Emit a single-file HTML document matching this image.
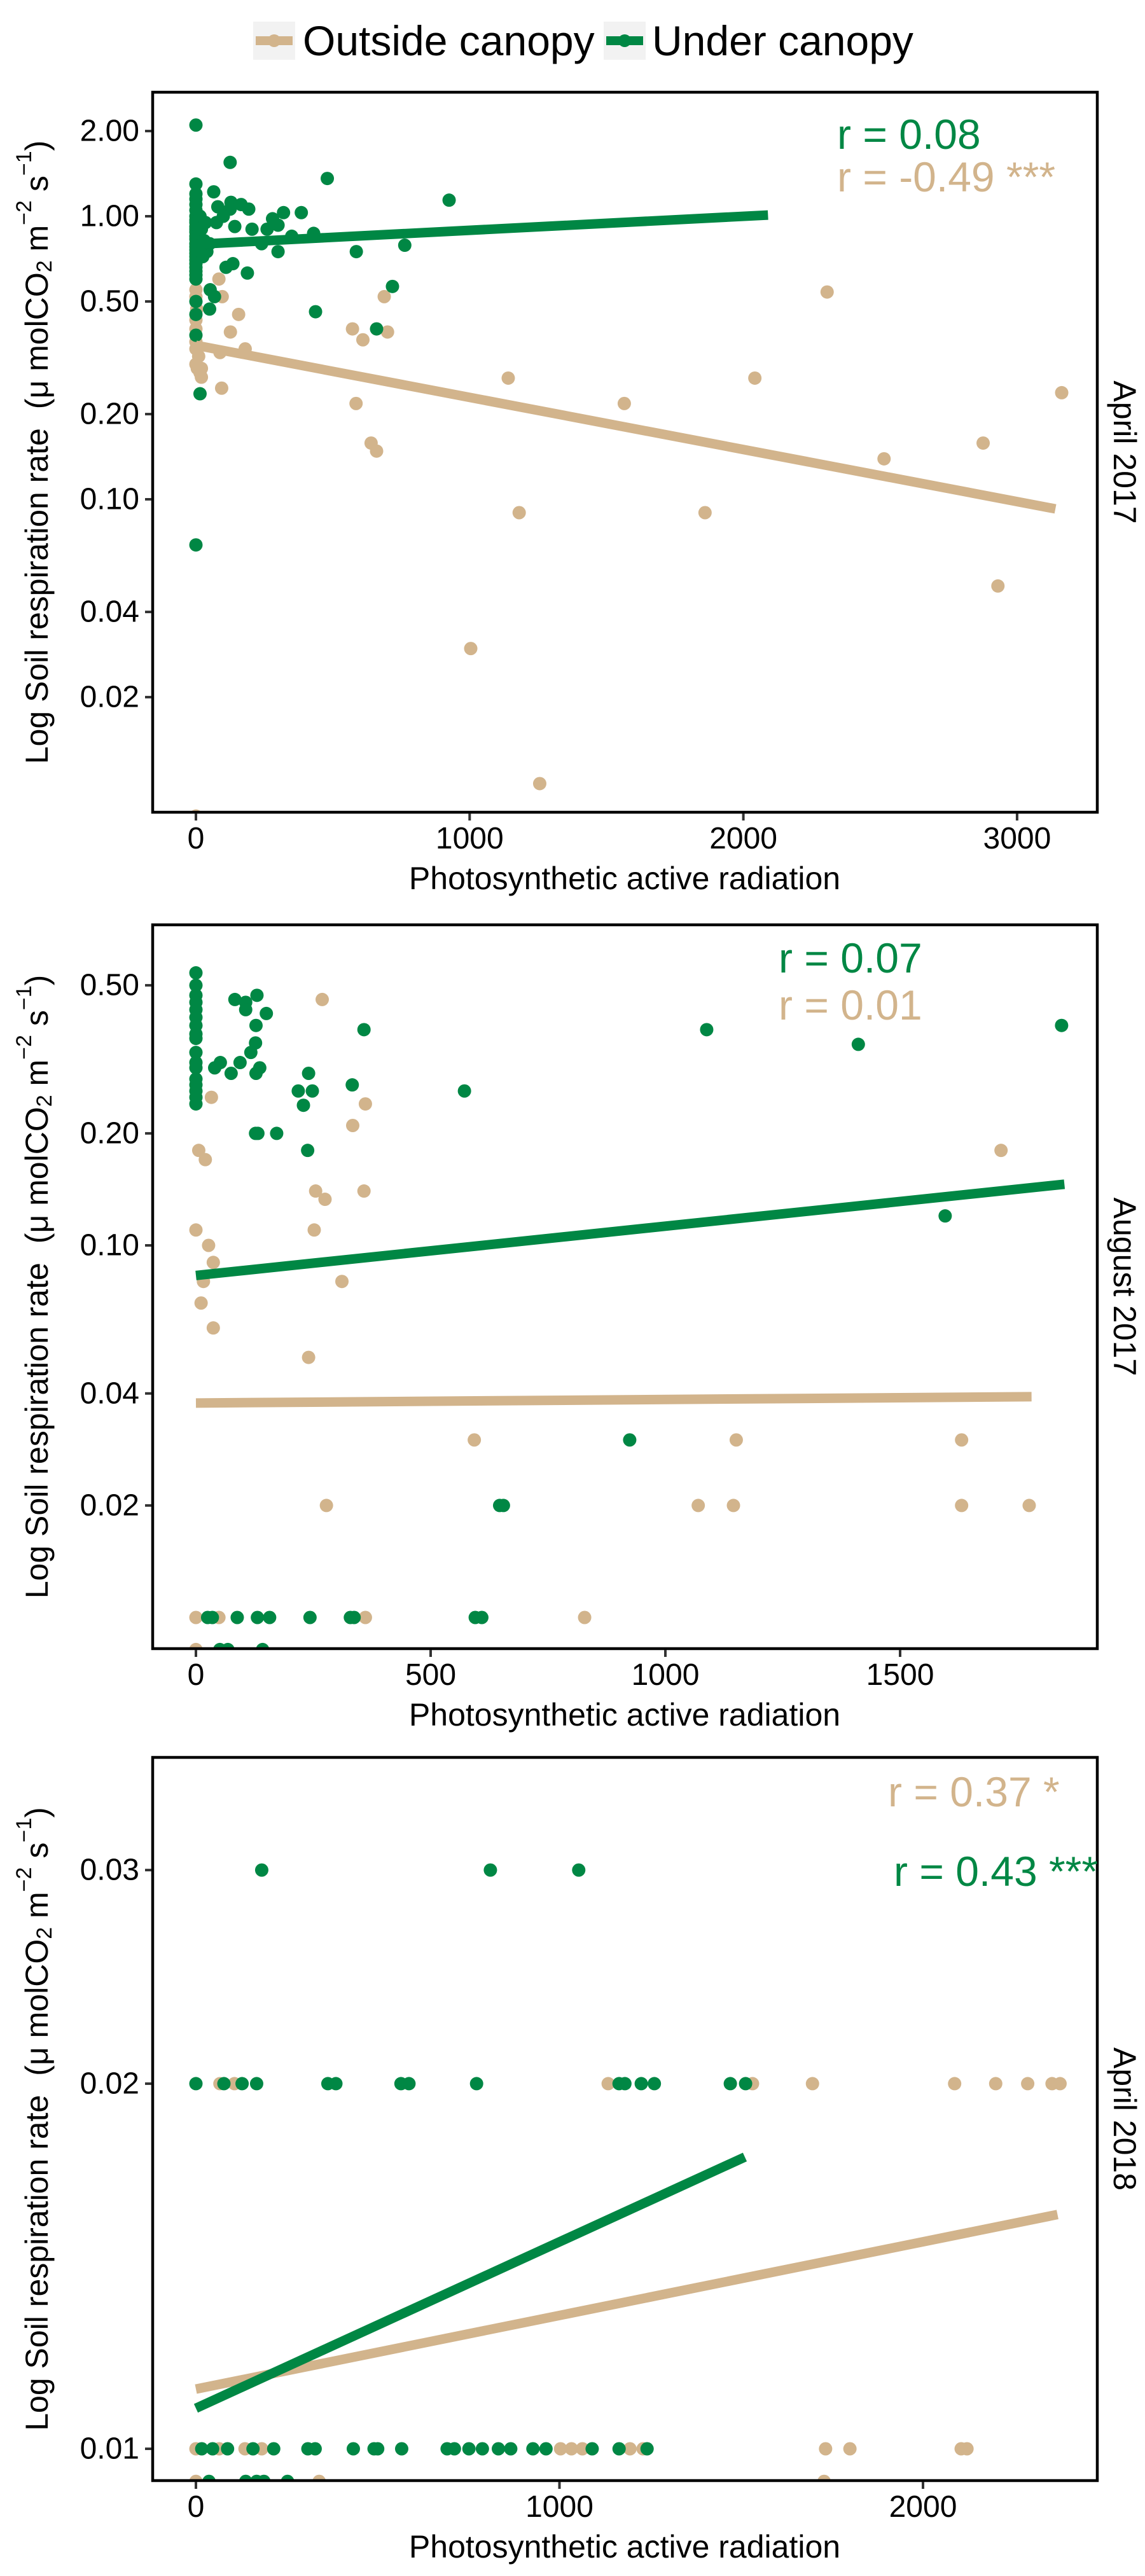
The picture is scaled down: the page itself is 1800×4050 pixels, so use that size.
<!DOCTYPE html>
<html><head><meta charset="utf-8"><style>
html,body{margin:0;padding:0;background:#fff;}
svg{display:block;font-family:"Liberation Sans",Arial,sans-serif;}
</style></head><body>
<svg id="chart" width="1800" height="4050" viewBox="0 0 1800 4050" xmlns="http://www.w3.org/2000/svg">
<g>
  <g>
    <rect x="398" y="34" width="66" height="60" fill="#f2f2f2"/>
    <line x1="402" y1="64" x2="460" y2="64" stroke="#D2B48C" stroke-width="14"/>
    <circle cx="431" cy="64" r="10" fill="#D2B48C"/>
    <text x="476" y="64" font-size="66" dominant-baseline="central">Outside canopy</text>
  </g>
  <g>
    <rect x="949" y="34" width="66" height="60" fill="#f2f2f2"/>
    <line x1="953" y1="64" x2="1011" y2="64" stroke="#008744" stroke-width="14"/>
    <circle cx="982" cy="64" r="10" fill="#008744"/>
    <text x="1025" y="64" font-size="66" dominant-baseline="central">Under canopy</text>
  </g>
</g>
</svg>
<script>
// ---- Panel 1: April 2017 ----
const p1XTicks = [0, 1000, 2000, 3000];
const p1YTicks = [2.00, 1.00, 0.50, 0.20, 0.10, 0.04, 0.02];
const p1YTickLabels = ["2.00", "1.00", "0.50", "0.20", "0.10", "0.04", "0.02"];
const p1Tan = [[2306,0.54],[688,0.52],[84,0.60],[96,0.52],[156,0.45],[126,0.39],[572,0.40],[610,0.366],[700,0.39],[88,0.33],[1141,0.268],[2042,0.268],[585,0.218],[1565,0.218],[3163,0.238],[640,0.158],[660,0.148],[2514,0.139],[2876,0.158],[1181,0.0897],[1860,0.0897],[2930,0.0494],[1004,0.0297],[1256,0.0099],[0,0.0076],[20,0.29],[15,0.28],[94,0.247],[0,0.30],[5,0.29],[0,0.55],[0,0.52],[3,0.47],[0,0.43],[0,0.40],[0,0.36],[0,0.34],[10,0.32],[180,0.34],[20,0.27]];
const p1Green = [[0,2.1],[125,1.55],[0,1.3],[65,1.22],[480,1.36],[925,1.14],[80,1.08],[128,1.12],[165,1.1],[193,1.06],[125,1.06],[320,1.03],[385,1.03],[280,0.98],[300,0.93],[205,0.9],[142,0.92],[75,0.95],[100,1.0],[586,0.75],[763,0.79],[300,0.75],[430,0.87],[188,0.63],[110,0.66],[135,0.68],[718,0.565],[52,0.55],[68,0.52],[437,0.46],[50,0.47],[660,0.40],[0,0.069],[15,0.236],[0,1.2],[0,1.15],[0,1.1],[0,1.05],[0,1.0],[0,0.97],[0,0.95],[0,0.92],[0,0.9],[0,0.88],[0,0.85],[0,0.83],[0,0.8],[0,0.78],[0,0.76],[0,0.74],[0,0.72],[0,0.7],[0,0.68],[0,0.66],[0,0.64],[0,0.62],[0,0.6],[20,0.9],[30,0.82],[40,0.75],[25,0.72],[50,0.8],[15,1.0],[35,0.95],[240,0.8],[260,0.9],[350,0.85],[0,0.5],[0,0.45],[0,0.38]];
const p1TanFit = [[0,0.35],[3140,0.0925]];
const p1GreenFit = [[0,0.796],[2090,1.01]];
// ---- Panel 2: August 2017 ----
const p2XTicks = [0, 500, 1000, 1500];
const p2YTicks = [0.50, 0.20, 0.10, 0.04, 0.02];
const p2YTickLabels = ["0.50", "0.20", "0.10", "0.04", "0.02"];
const p2Tan = [[269,0.458],[33,0.25],[361,0.24],[334,0.21],[6,0.18],[20,0.17],[1715,0.18],[255,0.14],[358,0.14],[275,0.133],[0,0.11],[252,0.11],[27,0.1],[37,0.09],[16,0.08],[311,0.08],[11,0.07],[37,0.06],[240,0.05],[593,0.03],[1151,0.03],[1631,0.03],[278,0.02],[1070,0.02],[1145,0.02],[1631,0.02],[1775,0.02],[0,0.01],[49,0.01],[361,0.01],[828,0.01],[0,0.0082]];
const p2Green = [[0,0.54],[0,0.50],[0,0.47],[0,0.45],[0,0.43],[0,0.41],[0,0.39],[0,0.37],[0,0.36],[0,0.33],[0,0.31],[0,0.30],[0,0.28],[0,0.27],[0,0.26],[0,0.25],[0,0.24],[83,0.458],[106,0.45],[106,0.43],[130,0.47],[150,0.42],[128,0.39],[358,0.38],[127,0.35],[117,0.33],[94,0.31],[52,0.31],[40,0.30],[75,0.29],[136,0.30],[128,0.29],[240,0.29],[218,0.26],[248,0.26],[333,0.27],[229,0.238],[572,0.26],[1088,0.38],[1411,0.347],[1844,0.39],[127,0.20],[132,0.20],[172,0.20],[238,0.18],[1596,0.12],[924,0.03],[647,0.02],[655,0.02],[25,0.01],[35,0.01],[88,0.01],[131,0.01],[157,0.01],[243,0.01],[329,0.01],[337,0.01],[595,0.01],[609,0.01],[51,0.0082],[68,0.0082],[142,0.0082]];
const p2TanFit = [[0,0.0377],[1780,0.0392]];
const p2GreenFit = [[0,0.083],[1850,0.146]];
// ---- Panel 3: April 2018 ----
const p3XTicks = [0, 1000, 2000];
const p3YTicks = [0.03, 0.02, 0.01];
const p3YTickLabels = ["0.03", "0.02", "0.01"];
const p3Tan = [[66,0.02],[106,0.02],[1134,0.02],[1531,0.02],[1696,0.02],[2087,0.02],[2200,0.02],[2288,0.02],[2355,0.02],[2377,0.02],[0,0.01],[64,0.01],[135,0.01],[181,0.01],[1003,0.01],[1033,0.01],[1063,0.01],[1194,0.01],[1230,0.01],[1732,0.01],[1799,0.01],[2105,0.01],[2121,0.01],[0,0.0094],[339,0.0094],[1728,0.0094]];
const p3Green = [[181,0.03],[810,0.03],[1053,0.03],[0,0.02],[77,0.02],[127,0.02],[167,0.02],[363,0.02],[385,0.02],[564,0.02],[586,0.02],[772,0.02],[1164,0.02],[1180,0.02],[1225,0.02],[1261,0.02],[1470,0.02],[1512,0.02],[16,0.01],[46,0.01],[87,0.01],[157,0.01],[214,0.01],[308,0.01],[328,0.01],[433,0.01],[490,0.01],[500,0.01],[566,0.01],[691,0.01],[711,0.01],[751,0.01],[788,0.01],[832,0.01],[866,0.01],[927,0.01],[963,0.01],[1090,0.01],[1164,0.01],[1241,0.01],[36,0.0094],[137,0.0094],[167,0.0094],[187,0.0094],[252,0.0094]];
const p3TanFit = [[0,0.0112],[2370,0.0156]];
const p3GreenFit = [[0,0.0108],[1510,0.0174]];

const TAN = "#D2B48C", GREEN = "#008744";
const NS = "http://www.w3.org/2000/svg";
const svg = document.getElementById("chart");
function mk(tag, attrs, parent) {
  const e = document.createElementNS(NS, tag);
  for (const k in attrs) e.setAttribute(k, attrs[k]);
  parent.appendChild(e);
  return e;
}
function panel(cfg) {
  const g = mk("g", {}, svg);
  
  
  const L = 240, R = 1725, T = cfg.top, B = cfg.bottom;
  const xs = v => cfg.x0 + cfg.xk * v;
  const ys = v => cfg.yRef - cfg.dec * (Math.log10(v) - Math.log10(cfg.vRef));
  const clipId = "clip-" + cfg.name;
  const cp = mk("clipPath", {id: clipId}, g);
  mk("rect", {x: L, y: T, width: R - L, height: B - T}, cp);
  const plot = mk("g", {"clip-path": "url(#" + clipId + ")"}, g);
  
  
  cfg.tan.forEach(p => {
    const c = mk("circle", {cx: xs(p[0]), cy: ys(p[1]), r: 10.5, fill: TAN}, plot);
    
    
  });
  cfg.green.forEach(p => {
    const c = mk("circle", {cx: xs(p[0]), cy: ys(p[1]), r: 10.5, fill: GREEN}, plot);
    
    
  });
  const tl = mk("line", {x1: xs(cfg.tanFit[0][0]), y1: ys(cfg.tanFit[0][1]), x2: xs(cfg.tanFit[1][0]), y2: ys(cfg.tanFit[1][1]), stroke: TAN, "stroke-width": 15}, plot);
  
  
  const gl = mk("line", {x1: xs(cfg.greenFit[0][0]), y1: ys(cfg.greenFit[0][1]), x2: xs(cfg.greenFit[1][0]), y2: ys(cfg.greenFit[1][1]), stroke: GREEN, "stroke-width": 15}, plot);
  
  
  const frame = mk("rect", {x: L, y: T, width: R - L, height: B - T, fill: "none", stroke: "#000", "stroke-width": 4.5}, g);
  
  
  cfg.yTicks.forEach((v, i) => {
    const y = ys(v);
    const t = mk("line", {x1: 228, y1: y, x2: 238, y2: y, stroke: "#333", "stroke-width": 4}, g);
    
    
    const lb = mk("text", {x: 219, y: y, "font-size": 48, "text-anchor": "end", "dominant-baseline": "central"}, g);
    lb.textContent = cfg.yLabels[i];
    
    
  });
  cfg.xTicks.forEach(v => {
    const x = xs(v);
    const t = mk("line", {x1: x, y1: B + 2, x2: x, y2: B + 13, stroke: "#333", "stroke-width": 4}, g);
    
    
    const lb = mk("text", {x: x, y: B + 57, "font-size": 48, "text-anchor": "middle"}, g);
    lb.textContent = String(v);
    
    
  });
  const xt = mk("text", {x: 982, y: B + 104, "font-size": 50, "text-anchor": "middle", "dominant-baseline": "central"}, g);
  xt.textContent = "Photosynthetic active radiation";
  
  
  const cy = (T + B) / 2;
  const yt = mk("text", {x: 0, y: 0, "font-size": 50, "text-anchor": "middle", "dominant-baseline": "central", transform: "translate(58," + cy + ") rotate(-90)", "xml:space": "preserve"}, g);
  yt.innerHTML = 'Log Soil respiration rate<tspan dx="30">(μ molCO</tspan><tspan font-size="34" dy="12">2</tspan><tspan dy="-12"> m</tspan><tspan font-size="34" dy="-20">−2</tspan><tspan dy="20"> s</tspan><tspan font-size="34" dy="-20">−1</tspan><tspan dy="20">)</tspan>';
  
  
  const st = mk("text", {x: 0, y: 0, "font-size": 50, "text-anchor": "middle", "dominant-baseline": "central", transform: "translate(1768," + cy + ") rotate(90)"}, g);
  st.textContent = cfg.strip;
  
  
  cfg.ann.forEach(a => {
    const t = mk("text", {x: a[0], y: a[1], "font-size": 66, fill: a[2], "dominant-baseline": "central"}, g);
    t.textContent = a[3];
    
    
  });
}
panel({name: "panel-april-2017", top: 145, bottom: 1277, x0: 308, xk: 0.4303, yRef: 340, vRef: 1, dec: 445,
  xTicks: p1XTicks, yTicks: p1YTicks, yLabels: p1YTickLabels, tan: p1Tan, green: p1Green, tanFit: p1TanFit, greenFit: p1GreenFit,
  strip: "April 2017", ann: [[1316, 211, GREEN, "r = 0.08", "under-canopy-r-label"], [1316, 278, TAN, "r = -0.49 ***", "outside-canopy-r-label"]]});
panel({name: "panel-august-2017", top: 1454, bottom: 2592, x0: 308, xk: 0.738, yRef: 1958, vRef: 0.1, dec: 585,
  xTicks: p2XTicks, yTicks: p2YTicks, yLabels: p2YTickLabels, tan: p2Tan, green: p2Green, tanFit: p2TanFit, greenFit: p2GreenFit,
  strip: "August 2017", ann: [[1224, 1506, GREEN, "r = 0.07", "under-canopy-r-label"], [1224, 1580, TAN, "r = 0.01", "outside-canopy-r-label"]]});
panel({name: "panel-april-2018", top: 2763, bottom: 3900, x0: 308, xk: 0.5715, yRef: 3850, vRef: 0.01, dec: 1907,
  xTicks: p3XTicks, yTicks: p3YTicks, yLabels: p3YTickLabels, tan: p3Tan, green: p3Green, tanFit: p3TanFit, greenFit: p3GreenFit,
  strip: "April 2018", ann: [[1396, 2817, TAN, "r = 0.37 *", "outside-canopy-r-label"], [1405, 2942, GREEN, "r = 0.43 ***", "under-canopy-r-label"]]});
</script>
</body></html>
